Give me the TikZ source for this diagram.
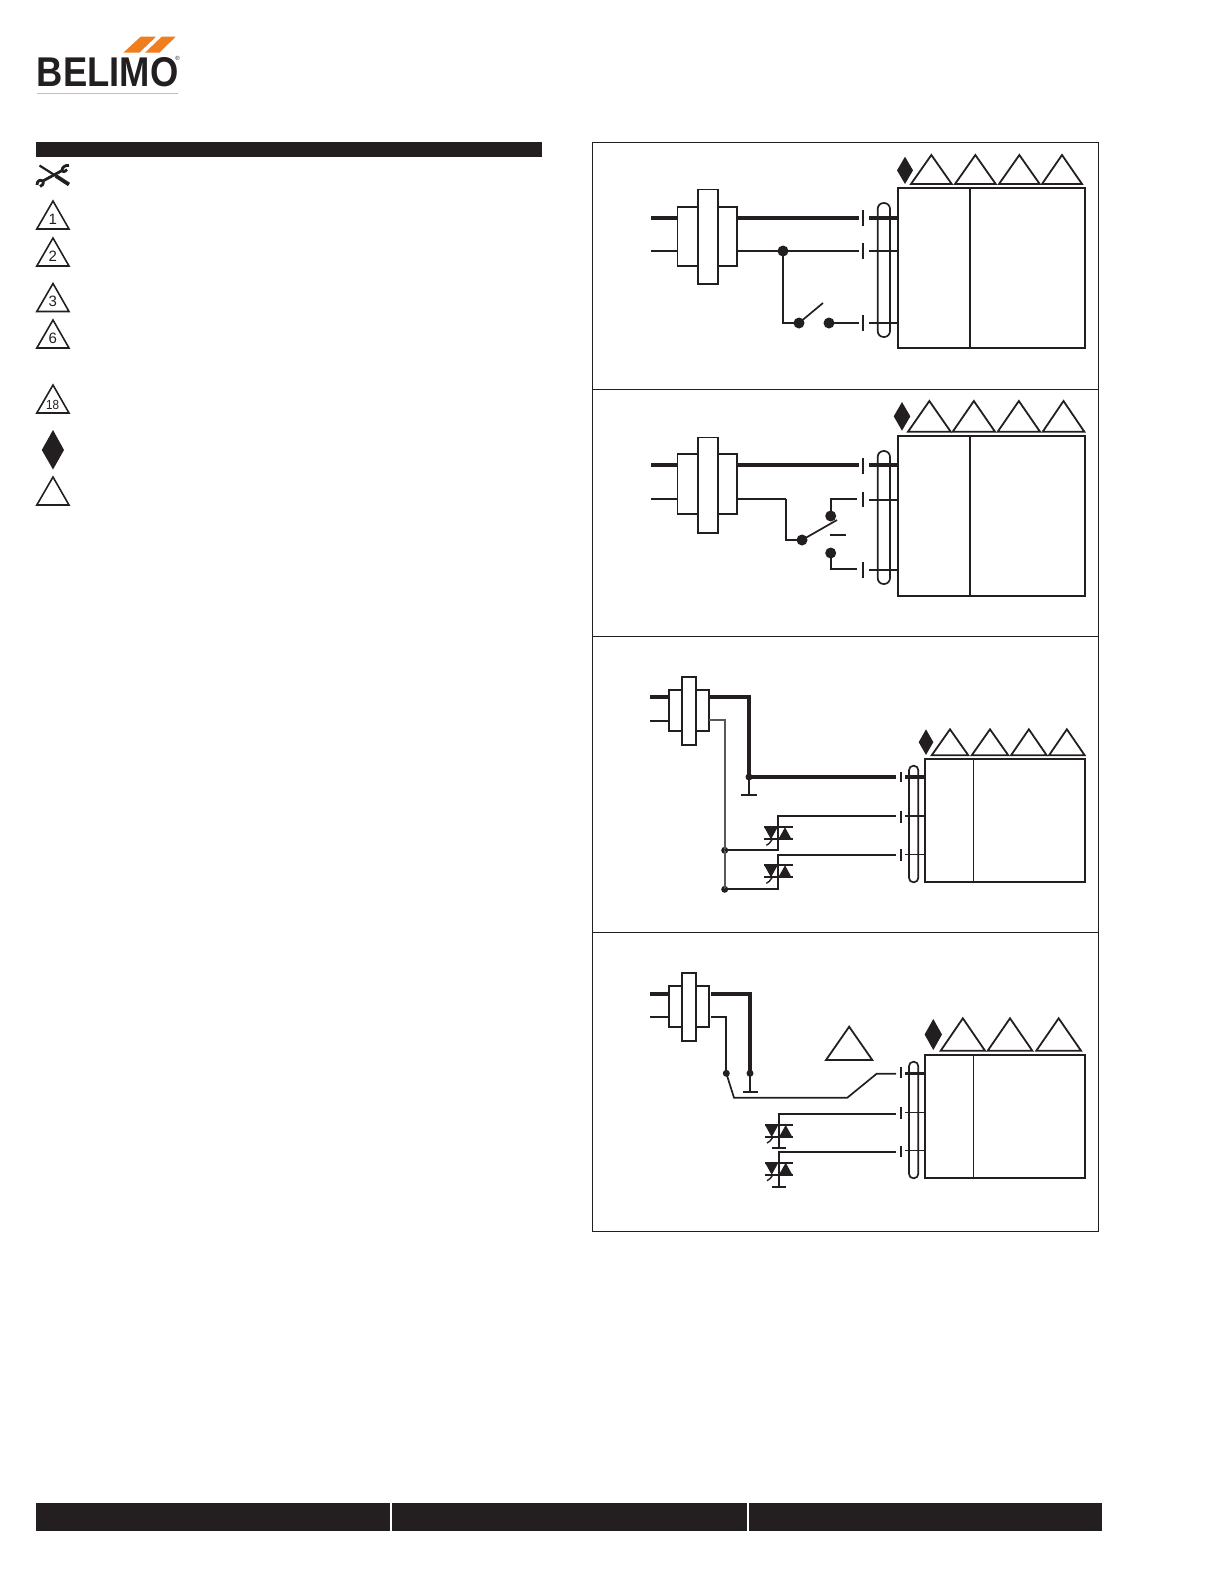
\documentclass[tikz,border=0pt]{standalone}
\usepackage{fontspec}
\setmainfont{Liberation Sans}
\usetikzlibrary{shapes.geometric}
\definecolor{barblack}{HTML}{231F20}
\definecolor{logoorange}{HTML}{F07D1E}
\definecolor{logorule}{HTML}{F3B27A}
\tikzset{
    frameline/.style={draw=barblack,line width=0.5bp},
    thinwire/.style={barblack,line width=0.85bp},
    thickwire/.style={barblack,line width=2bp},
    hairwire/.style={barblack,line width=0.55bp},
    boxline/.style={draw=barblack,line width=0.9bp},
    tagline/.style={draw=barblack,line width=0.8bp,line join=miter},
    blackbar/.style={fill=barblack,draw=none},
    dotbig/.style={circle,fill=barblack,inner sep=0pt,minimum size=5.5bp},
    dotsmall/.style={circle,fill=barblack,inner sep=0pt,minimum size=3.5bp},
    digit/.style={inner sep=0pt,font=\fontsize{7.5bp}{8bp}\selectfont,text=barblack},
}
% one triac on a wire at (#1,#2), #2 is the upper bar
\newcommand{\triac}[2]{
    \fill[barblack] (#1-14,#2) -- (#1-0.7,#2) -- (#1-7.3,#2+12) -- cycle;
    \fill[barblack] (#1,#2+12) -- (#1+13.3,#2+12) -- (#1+6.7,#2) -- cycle;
    \draw[thinwire] (#1-14,#2) -- (#1+14.3,#2);
    \draw[thinwire] (#1-14,#2+12) -- (#1+14.3,#2+12);
    \draw[hairwire,line width=0.7bp] (#1-6,#2+12) -- (#1-9,#2+16) -- (#1-12,#2+18);
}
\begin{document}
\begin{tikzpicture}[x=0.5bp,y=-0.5bp]
    \useasboundingbox (0,0) rectangle (1224,1584);
    % logo
    \fill[logoorange] (123.3,52.7) -- (140.7,36.7) -- (156,36.7) -- (139.3,52.7) -- cycle;
    \fill[logoorange] (145,52.7) -- (161.7,36.7) -- (175.7,36.7) -- (159.3,52.7) -- cycle;
    \node[anchor=base west,inner sep=0pt,text=barblack,xscale=0.875,transform shape,
        font=\fontsize{20.8bp}{22bp}\selectfont\bfseries] (logoname) at (36.5,86) {BELIMO};
    \node[inner sep=0pt,text=barblack,font=\fontsize{3bp}{3bp}\selectfont] (logoreg) at (177.5,58) {®};
    \draw[logorule,line width=0.5bp] (37,93) -- (178,93);
    % bars
    \fill[blackbar] (36,142) rectangle (542,157);
    \fill[blackbar] (36,1503) rectangle (390.3,1531);
    \fill[blackbar] (392.3,1503) rectangle (746.5,1531);
    \fill[blackbar] (748.5,1503) rectangle (1102,1531);
    % tool mark
    \draw[barblack,line width=1.1bp] (39.5,165.5) -- (56,176);
    \draw[barblack,line width=1.9bp] (56,176) -- (69,184.5);
    \draw[barblack,line width=1.4bp] (42,181.5) -- (63,170);
    \draw[barblack,line width=1.4bp] (37,185) .. controls (37,180.5) and (40,179.5) .. (43,181) .. controls (44,184) and (42,186) .. (40,186.5);
    \draw[barblack,line width=1.4bp] (62,171) .. controls (62,167) and (65,165) .. (69,165.5) (67,169.5) .. controls (65,172) and (63,172) .. (62,171);
    % legend marks
    \foreach \apex/\tagtext in {201/1,238/2,283.5/3,320/6,477/{}}{
        \draw[tagline] (53,\apex) -- (69,\apex+28) -- (36.8,\apex+28) -- cycle;
        \node[digit] (tag\apex) at (52.7,\apex+18) {\tagtext};
    }
    \draw[tagline] (53,385) -- (69,413) -- (36.8,413) -- cycle;
    \node[digit,font=\fontsize{6.6bp}{7bp}\selectfont,xscale=0.88,transform shape] (tageighteen) at (52.7,405) {18};
    \fill[barblack] (53,430) -- (64,450) -- (53,469.5) -- (41.8,450) -- cycle;
    % panels
    \foreach \ytop/\ybot in {142.5/389,389/636.5,636.5/932.5,932.5/1231}{
        \draw[frameline] (592,\ytop) rectangle (1098.3,\ybot);
    }
    % actuators: left, top, bottom, divider, divider width, capsule left, right, top, bottom
    \foreach \bl/\bt/\bb/\bd/\dw/\cl/\cr/\ct/\cb in {897.7/187.7/347.7/970/0.85/877.7/890/203/337,
        897.7/435.7/595.7/970/0.85/877.7/890/451/584,
        925/758.7/881.7/973.3/0.55/909/918.3/765.7/882.3,
        925/1055/1178/973.3/0.55/909/918.3/1061.7/1178.3}{
        \pgfmathsetmacro\caprad{(\cr-\cl)*0.24}
        \draw[boxline,fill=white] (\bl,\bt) rectangle (1085,\bb);
        \draw[barblack,line width=\dw bp] (\bd,\bt) -- (\bd,\bb);
        \draw[thinwire,rounded corners=\caprad bp] (\cl,\ct) rectangle (\cr,\cb);
    }
    % marks above the actuators
    \foreach \apex/\base/\triL/\triR in {155/184/911/951.7,155/184/955/995.7,155/184/999/1039.7,155/184/1042/1082,
        401/431.7/908/950.7,401/431.7/952.7/995,401/431.7/997.7/1040,401/431.7/1042.7/1084.3,
        729.3/755.3/931.7/968.3,729.3/755.3/971.7/1008.3,729.3/755.3/1011/1046.7,729.3/755.3/1049/1084.7,
        1018.3/1050.7/940.7/985,1018.3/1050.7/987.7/1032.3,1018.3/1050.7/1036.3/1081,
        1026.7/1060/826/872.3}{
        \draw[tagline,line width=0.9bp] (\triL,\base) -- ({(\triL+\triR)/2},\apex) -- (\triR,\base) -- cycle;
    }
    \foreach \cx/\dt/\db/\halfw in {905/156.7/184/8,902/402/430.7/8.3,926/729.3/755/7.3,933.3/1019/1050/8.7}{
        \fill[barblack] (\cx,\dt) -- (\cx+\halfw,{(\dt+\db)/2}) -- (\cx,\db) -- (\cx-\halfw,{(\dt+\db)/2}) -- cycle;
    }
    % transformers: x1,x2,x3,x4, outer top,bottom, inner top,bottom
    \foreach \ra/\rb/\rc/\rd/\ot/\ob/\it/\ib in {677.5/698.3/717.7/737/207/266/189.5/284,
        677.5/698.3/717.7/737/454/514/437.5/532.7,
        668.7/681.7/696.3/709.3/690/731/676.7/745.3,
        668.7/681.7/696.3/709.3/985.7/1027/972.7/1041}{
        \draw[boxline] (\ra,\ot) rectangle (\rd,\ob);
        \draw[boxline,fill=white] (\rb,\it) rectangle (\rc,\ib);
    }
    % contact ticks
    \foreach \tx/\tt/\tb in {862.7/210/226,862.7/243/259,862.7/315/331,
        862.7/458/474,862.7/491.7/507,862.7/562/578,
        901.3/771.7/782.3,901.3/810.7/823,901.3/849/861,
        901.3/1067.3/1078.3,901.3/1107.3/1118.7,901.3/1146/1156.7}{
        \draw[thinwire] (\tx,\tt) -- (\tx,\tb);
    }

    % panel 1
    \draw[thickwire] (651,217.7) -- (677,217.7);
    \draw[thinwire] (651,251) -- (677,251);
    \draw[thickwire] (737,217.7) -- (859,217.7);
    \draw[thickwire] (869,217.7) -- (897,217.7);
    \node[dotbig] (junctiona) at (783,251) {};
    \node[dotbig] (pivota) at (799,323) {};
    \node[dotbig] (contacta) at (829,323) {};
    \coordinate (armenda) at (823,303);
    \draw[thinwire] (737,251) -- (junctiona.center) -- (859,251);
    \draw[thinwire] (869,251) -- (897,251);
    \draw[thinwire] (junctiona.center) |- (pivota.center);
    \draw[thinwire] (pivota.center) -- (armenda);
    \draw[thinwire] (contacta.center) -- (859,323);
    \draw[thinwire] (869,323) -- (897,323);

    % panel 2
    \draw[thickwire] (651,465.3) -- (677,465.3);
    \draw[thinwire] (651,498.7) -- (677,498.7);
    \draw[thickwire] (737,465.3) -- (859,465.3);
    \draw[thickwire] (869,465.3) -- (897,465.3);
    \node[dotbig] (pivotb) at (802,540) {};
    \node[dotbig] (contactb) at (830.7,516) {};
    \node[dotbig] (contactc) at (830.7,553) {};
    \coordinate (armendb) at (837,520);
    \draw[hairwire] (737,499) -- (785.7,499);
    \draw[thinwire] (785.7,499) |- (pivotb.center);
    \draw[thinwire] (pivotb.center) -- (armendb);
    \draw[thinwire] (contactb.center) |- (857,499);
    \draw[hairwire] (869,500) -- (897,500);
    \draw[thinwire] (830,534.7) -- (846,534.7);
    \draw[thinwire] (contactc.center) -- (830.7,568.7) -- (857,568.7);
    \draw[hairwire] (869,570) -- (897,570);

    % panel 3
    \draw[thickwire] (650,697.3) -- (668.7,697.3);
    \draw[thinwire] (650,721) -- (668.7,721);
    \node[dotsmall] (groundc) at (749,777) {};
    \node[dotsmall] (railc) at (724.7,850.3) {};
    \node[dotsmall] (raild) at (724.7,889.3) {};
    \draw[thickwire] (709.3,697.3) -| (groundc.center);
    \draw[thickwire] (groundc.center) -- (895.7,777);
    \draw[thickwire,line width=1.6bp] (905.3,777) -- (925,777);
    \draw[thinwire] (groundc.center) -- (749,795);
    \draw[thinwire] (741,795) -- (756.7,795);
    \draw[thinwire,draw=barblack!75] (709.3,720) -| (raild.center);
    \draw[thinwire] (railc.center) -| (778.3,816) -- (895.7,816);
    \draw[hairwire] (905,816) -- (925,816);
    \draw[thinwire] (raild.center) -| (778.3,854.7) -- (895.7,854.7);
    \draw[hairwire] (905,854.7) -- (925,854.7);
    \triac{778.3}{827.3}
    \triac{778.3}{865.3}

    % panel 4
    \draw[thickwire] (650,994.3) -- (668.7,994.3);
    \draw[thinwire] (650,1016.7) -- (668.7,1016.7);
    \node[dotsmall] (groundd) at (750,1073.3) {};
    \node[dotsmall] (pivotd) at (726.3,1073.3) {};
    \draw[thickwire] (711,994.3) -| (groundd.center);
    \draw[thinwire] (groundd.center) -- (750,1092);
    \draw[thinwire] (742.7,1092) -- (757.7,1092);
    \draw[thinwire] (711,1016.7) -| (pivotd.center);
    \draw[thinwire] (pivotd.center) -- (734,1097.7) -- (847.3,1097.7) -- (876.7,1073.7) -- (896,1073.7);
    \draw[thickwire,line width=1.6bp] (905.3,1073.3) -- (925,1073.3);
    \draw[thinwire] (896,1113.7) -- (779,1113.7) -- (779,1147.7);
    \draw[thinwire] (772.3,1147.7) -- (786,1147.7);
    \draw[hairwire] (905,1112.3) -- (925,1112.3);
    \draw[thinwire] (896,1152) -- (779,1152) -- (779,1187);
    \draw[thinwire] (772.3,1187) -- (786,1187);
    \draw[hairwire] (905,1150.3) -- (925,1150.3);
    \triac{779}{1125}
    \triac{779}{1162.7}
\end{tikzpicture}
\end{document}
